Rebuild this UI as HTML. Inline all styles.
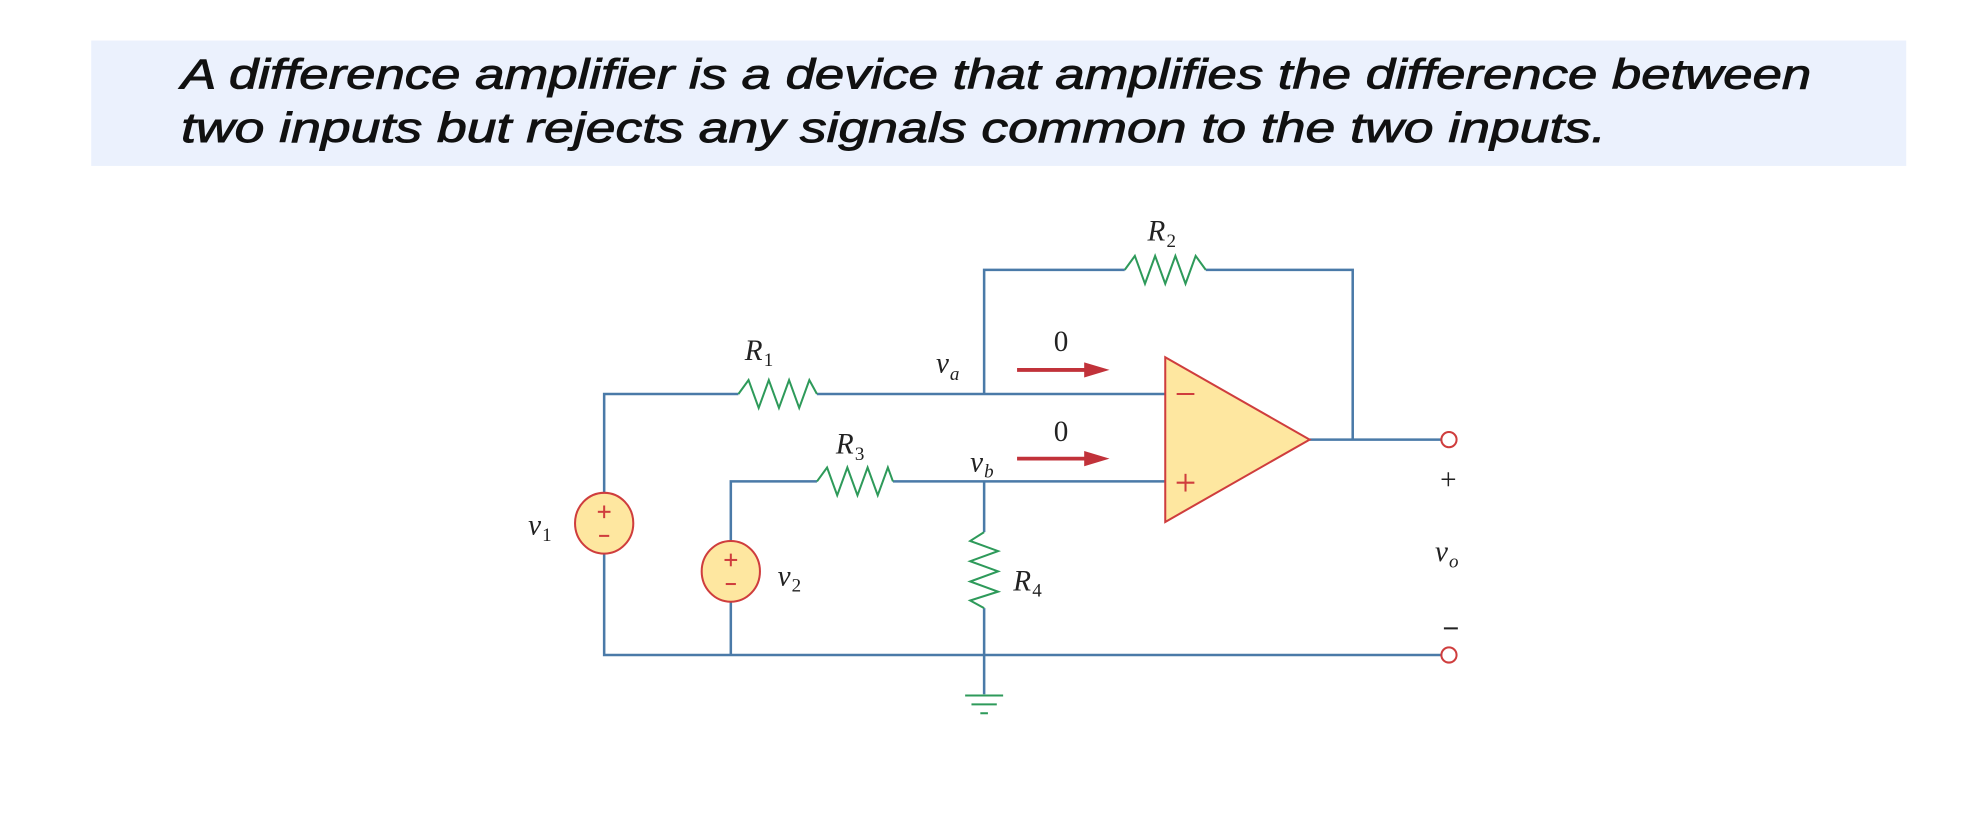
<!DOCTYPE html>
<html><head><meta charset="utf-8"><style>
html,body{margin:0;padding:0;background:#fff;width:1986px;height:826px;overflow:hidden}
svg{display:block}
.w{stroke:#4a7aa8;stroke-width:2;fill:none}
.r{stroke:#2e9a5a;stroke-width:1.6;fill:none}
.lab{font-family:"Liberation Serif",serif;font-style:italic;font-size:23px;fill:#222}
.sub{font-family:"Liberation Serif",serif;font-size:15px;fill:#222}
.num{font-family:"Liberation Serif",serif;font-size:23px;fill:#222}
</style></head><body>
<svg width="1986" height="826" viewBox="0 0 1568 652" preserveAspectRatio="none">
<rect x="72" y="32" width="1433" height="99" fill="#ebf1fd"/>
<g font-family="'Liberation Sans',sans-serif" font-style="italic" font-size="33" fill="#111" stroke="#111" stroke-width="0.7">
<text x="143" y="70" textLength="1287" lengthAdjust="spacingAndGlyphs">A difference amplifier is a device that amplifies the difference between</text>
<text x="143" y="112" textLength="1125" lengthAdjust="spacingAndGlyphs">two inputs but rejects any signals common to the two inputs.</text>
</g>
<g>
<polyline class="w" points="777,311 777,213 888,213"/>
<polyline class="w" points="952,213 1068,213 1068,347"/>
<polyline class="w" points="477,390 477,311 583,311"/>
<line class="w" x1="645" y1="311" x2="920" y2="311"/>
<polyline class="w" points="577,428 577,380 645,380"/>
<line class="w" x1="705" y1="380" x2="920" y2="380"/>
<line class="w" x1="777" y1="380" x2="777" y2="420"/>
<line class="w" x1="777" y1="480" x2="777" y2="548"/>
<line class="w" x1="1034" y1="347" x2="1138" y2="347"/>
<polyline class="w" points="477,436 477,517 1138,517"/>
<line class="w" x1="577" y1="474" x2="577" y2="517"/>
</g>
<polyline class="r" points="888,213 896,202 904,224 912,202 920,224 928,202 936,224 944,202 952,213"/>
<polyline class="r" points="583,311 591,300 599,322 607,300 615,322 623,300 631,322 639,300 645,311"/>
<polyline class="r" points="645,380 653,369 661,391 669,369 677,391 685,369 693,391 701,369 705,380"/>
<polyline class="r" points="777,420 766,427 788,435 766,443 788,451 766,459 788,467 766,474 777,480"/>
<g class="r" stroke-width="2">
<line x1="762" y1="549" x2="792" y2="549"/><line x1="767" y1="556" x2="787" y2="556"/><line x1="774" y1="563" x2="780" y2="563"/>
</g>
<polygon points="920,282 920,412 1034,347" fill="#fee7a0" stroke="#cf3d3d" stroke-width="1.6"/>
<g stroke="#cf3d3d" stroke-width="1.6">
<line x1="929" y1="311" x2="943" y2="311"/>
<line x1="929" y1="381" x2="943" y2="381"/><line x1="936" y1="374" x2="936" y2="388"/>
</g>
<g>
<ellipse cx="477" cy="413" rx="23" ry="24" fill="#fee7a0" stroke="#cf3d3d" stroke-width="1.6"/>
<g stroke="#cf3d3d" stroke-width="1.6"><line x1="472" y1="404" x2="482" y2="404"/><line x1="477" y1="399" x2="477" y2="409"/><line x1="473" y1="423" x2="481" y2="423"/></g>
</g>
<g>
<ellipse cx="577" cy="451" rx="23" ry="24" fill="#fee7a0" stroke="#cf3d3d" stroke-width="1.6"/>
<g stroke="#cf3d3d" stroke-width="1.6"><line x1="572" y1="442" x2="582" y2="442"/><line x1="577" y1="437" x2="577" y2="447"/><line x1="573" y1="461" x2="581" y2="461"/></g>
</g>
<g fill="#c1323a" stroke="#c1323a">
<line x1="803" y1="292" x2="862" y2="292" stroke-width="3"/><polygon points="856,286 876,292 856,298" stroke="none"/>
<line x1="803" y1="362" x2="862" y2="362" stroke-width="3"/><polygon points="856,356 876,362 856,368" stroke="none"/>
</g>
<g fill="#fff" stroke="#cf3d3d" stroke-width="1.6">
<circle cx="1144" cy="347" r="6"/><circle cx="1144" cy="517" r="6"/>
</g>
<g>
<text class="lab" x="906" y="190">R</text><text class="sub" x="921" y="195">2</text>
<text class="lab" x="588" y="284">R</text><text class="sub" x="603" y="289">1</text>
<text class="lab" x="660" y="358">R</text><text class="sub" x="675" y="363">3</text>
<text class="lab" x="800" y="466">R</text><text class="sub" x="815" y="471">4</text>
<text class="lab" x="739" y="294">v</text><text class="sub" x="750" y="300" font-style="italic">a</text>
<text class="lab" x="766" y="372">v</text><text class="sub" x="777" y="377" font-style="italic">b</text>
<text class="lab" x="417" y="422">v</text><text class="sub" x="428" y="427">1</text>
<text class="lab" x="614" y="462">v</text><text class="sub" x="625" y="467">2</text>
<text class="lab" x="1133" y="443">v</text><text class="sub" x="1144" y="448" font-style="italic">o</text>
<text class="num" x="832" y="277">0</text>
<text class="num" x="832" y="348">0</text>
<text class="num" x="1137" y="386">+</text>
<line x1="1140" y1="496" x2="1151" y2="496" stroke="#222" stroke-width="1.6"/>
</g>
</svg>
</body></html>
